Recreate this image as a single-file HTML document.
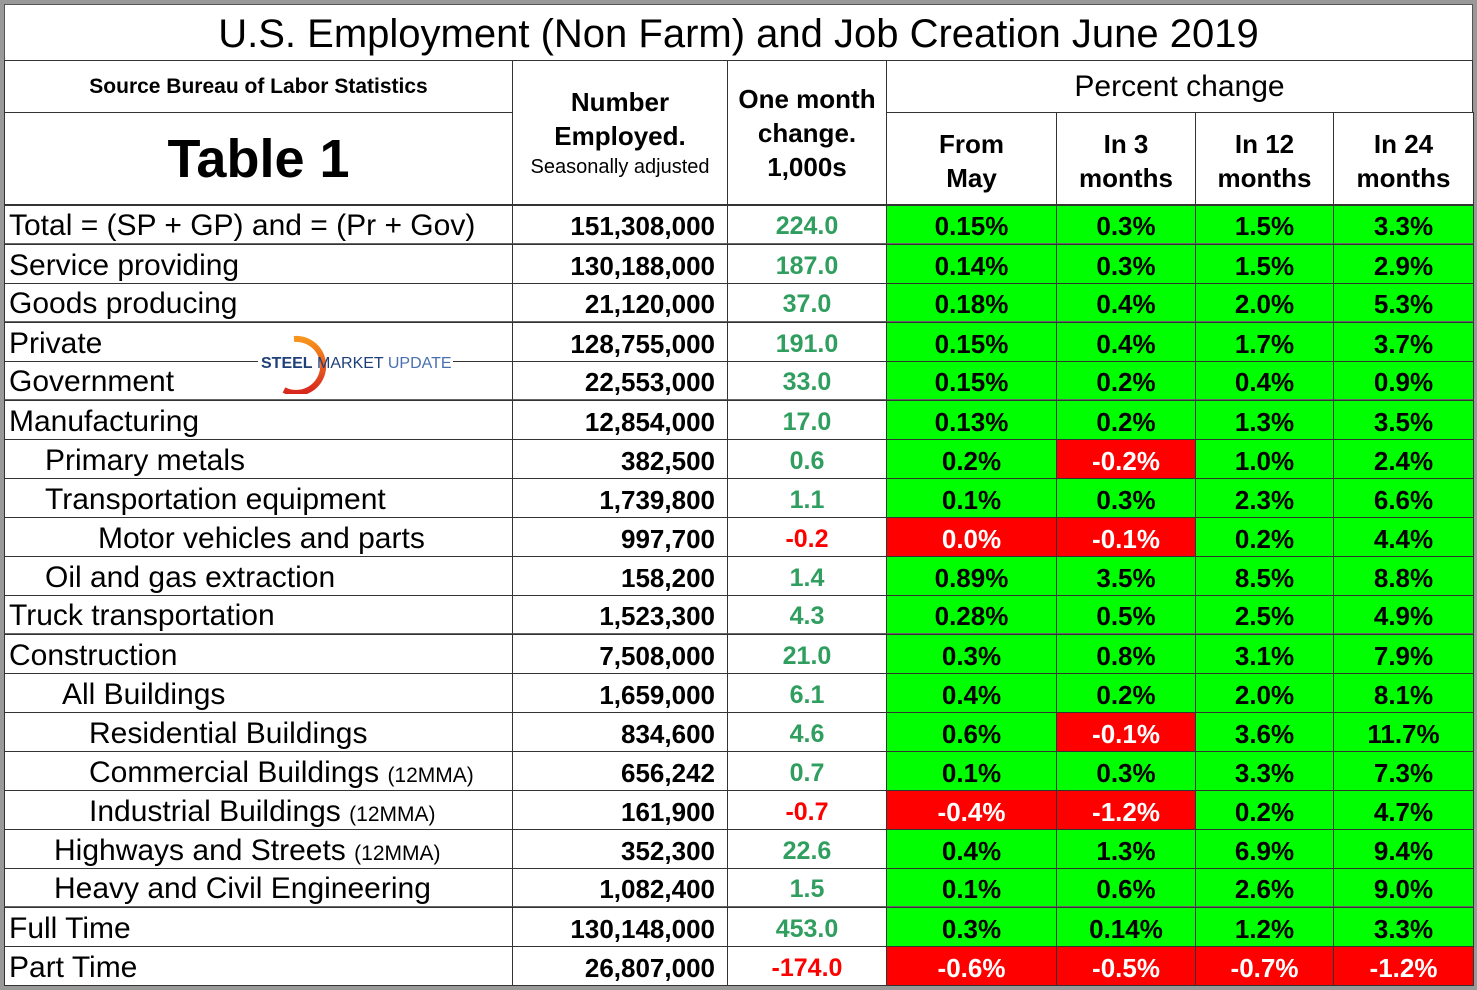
<!DOCTYPE html>
<html><head><meta charset="utf-8"><style>
body{margin:0;width:1477px;height:990px;background:#fff;overflow:hidden;font-family:"Liberation Sans",Arial,sans-serif;position:relative}
.c{position:absolute;box-sizing:border-box;border:1px solid #333;display:flex;align-items:center;justify-content:center;white-space:nowrap}
.lab{justify-content:flex-start;font-size:30px;padding-top:3px}
.num{justify-content:flex-end;padding-right:12px;font-weight:bold;font-size:26px;padding-top:4px}
.chg{font-weight:bold;font-size:25px;padding-top:4px}
.pct{font-weight:bold;font-size:26px;padding-top:4px}
</style></head><body>
<div style="position:absolute;left:0;top:0;width:1477px;height:990px;box-sizing:border-box;border:4px solid #999"></div>
<div class="c" style="left:4px;top:4px;width:1469px;height:57px;font-size:40px;border-color:#555;padding-top:4px">U.S. Employment (Non Farm) and Job Creation June 2019</div>
<div class="c" style="left:4px;top:60px;width:509px;height:53px;font-size:21px;font-weight:bold">Source Bureau of Labor Statistics</div>
<div class="c" style="left:4px;top:112px;width:509px;height:93px;font-size:54px;font-weight:bold">Table 1</div>
<div class="c" style="left:512px;top:60px;width:216px;height:145px;flex-direction:column;line-height:34px;font-size:26px;font-weight:bold"><div>Number</div><div>Employed.</div><div style="font-size:20px;font-weight:normal;line-height:28px">Seasonally adjusted</div></div>
<div class="c" style="left:727px;top:60px;width:160px;height:145px;flex-direction:column;line-height:34px;font-size:26px;font-weight:bold"><div>One month</div><div>change.</div><div>1,000s</div></div>
<div class="c" style="left:886px;top:60px;width:587px;height:53px;font-size:30px">Percent change</div>
<div id="t"></div>
<script>
const labels=["Total = (SP + GP) and = (Pr + Gov)","Service providing","Goods producing","Private","Government","Manufacturing","Primary metals","Transportation equipment","Motor vehicles and parts","Oil and gas extraction","Truck transportation","Construction","All Buildings","Residential Buildings","Commercial Buildings","Industrial Buildings","Highways and Streets","Heavy and Civil Engineering","Full Time","Part Time"];
const indents=[0,0,0,0,0,0,36,36,89,36,0,0,53,80,80,80,45,45,0,0];
const suffix=["","","","","","","","","","","","","","","(12MMA)","(12MMA)","(12MMA)","","",""];
const employed=["151,308,000","130,188,000","21,120,000","128,755,000","22,553,000","12,854,000","382,500","1,739,800","997,700","158,200","1,523,300","7,508,000","1,659,000","834,600","656,242","161,900","352,300","1,082,400","130,148,000","26,807,000"];
const change=[224.0,187.0,37.0,191.0,33.0,17.0,0.6,1.1,-0.2,1.4,4.3,21.0,6.1,4.6,0.7,-0.7,22.6,1.5,453.0,-174.0];
const fromMay=["0.15%","0.14%","0.18%","0.15%","0.15%","0.13%","0.2%","0.1%","0.0%","0.89%","0.28%","0.3%","0.4%","0.6%","0.1%","-0.4%","0.4%","0.1%","0.3%","-0.6%"];
const in3=["0.3%","0.3%","0.4%","0.4%","0.2%","0.2%","-0.2%","0.3%","-0.1%","3.5%","0.5%","0.8%","0.2%","-0.1%","0.3%","-1.2%","1.3%","0.6%","0.14%","-0.5%"];
const in12=["1.5%","1.5%","2.0%","1.7%","0.4%","1.3%","1.0%","2.3%","0.2%","8.5%","2.5%","3.1%","2.0%","3.6%","3.3%","0.2%","6.9%","2.6%","1.2%","-0.7%"];
const in24=["3.3%","2.9%","5.3%","3.7%","0.9%","3.5%","2.4%","6.6%","4.4%","8.8%","4.9%","7.9%","8.1%","11.7%","7.3%","4.7%","9.4%","9.0%","3.3%","-1.2%"];
const redMay=[8,15,19],red3=[6,8,13,15,19],red12=[19],red24=[19];
const heads=[["From","May"],["In 3","months"],["In 12","months"],["In 24","months"]];
const colX=[886,1056,1195,1333,1473];
const thick=[0,2,4,10,17];
const t=document.getElementById('t');
function cell(cls,x,y,w,h,html){const d=document.createElement('div');d.className='c '+cls;d.style.cssText+=`left:${x}px;top:${y}px;width:${w}px;height:${h}px`;d.innerHTML=html;t.appendChild(d);return d;}
heads.forEach((h,i)=>{const d=cell('pct',colX[i],112,colX[i+1]-colX[i]+1,93,`<div style="text-align:center;line-height:34px">${h[0]}<br>${h[1]}</div>`);

});
const rowH=39,y0=205;
labels.forEach((l,i)=>{
 const y=y0+i*rowH;const bb=thick.includes(i)?'border-bottom:2px solid #666;':'';
 let d=cell('lab',4,y,509,rowH+1,`<span style="padding-left:${4+indents[i]}px">${l}${suffix[i]?' <span style="font-size:21px">'+suffix[i]+'</span>':''}</span>`);
 d.style.cssText+=bb;
 
 
 d=cell('num',512,y,216,rowH+1,employed[i]);d.style.cssText+=bb;
 
 
 const v=change[i];
 d=cell('chg',727,y,160,rowH+1,v.toFixed(1));d.style.cssText+=bb;d.style.color=v<0?'#ff0000':'#2f9e5e';
 
 
 [[fromMay,redMay],[in3,red3],[in12,red12],[in24,red24]].forEach(([arr,reds],k)=>{
  const r=reds.includes(i);
  const e=cell('pct',colX[k],y,colX[k+1]-colX[k]+1,rowH+1,arr[i]);
  e.style.background=r?'#ff0000':'#00ff00';e.style.color=r?'#fff':'#000';e.style.cssText+=bb;
  
  
 });
});
</script>
<div style="position:absolute;left:258px;top:334px;width:195px;height:60px">
<svg width="195" height="60" style="position:absolute;left:0;top:0">
<defs><linearGradient id="g" x1="0" y1="0" x2="0" y2="1"><stop offset="0" stop-color="#f7941d"/><stop offset="1" stop-color="#d7261e"/></linearGradient></defs>
<rect x="0" y="22" width="195" height="16" fill="#fff"/>
<path d="M36 5 A27 27 0 1 1 26 56" fill="none" stroke="url(#g)" stroke-width="6"/></svg>
<div style="position:absolute;left:3px;top:21px;font-size:16px;color:#1e3f7a;white-space:nowrap"><b>STEEL</b> MARKET <span style="color:#4a6fb0">UPDATE</span></div></div>
</body></html>
